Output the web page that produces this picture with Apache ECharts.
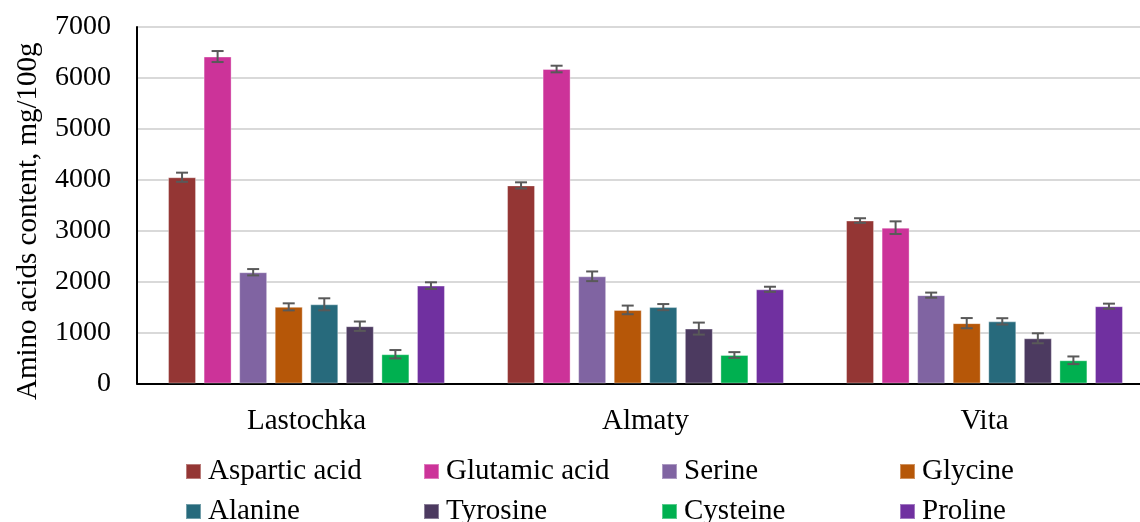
<!DOCTYPE html>
<html>
<head>
<meta charset="utf-8">
<script src="https://cdn.jsdelivr.net/npm/echarts@6/dist/echarts.min.js"></script>
<style>
  html, body { margin: 0; padding: 0; background: #fff; }
  #chart { width: 1140px; height: 522px; }
</style>
</head>
<body>
<div id="chart"></div>
<script>
// Data
var varieties = ['Lastochka', 'Almaty', 'Vita'];
var acids = ['Aspartic acid', 'Glutamic acid', 'Serine', 'Glycine',
             'Alanine', 'Tyrosine', 'Cysteine', 'Proline'];
var colors = ['#943634', '#CC3399', '#8064A2', '#B65708',
              '#276A7C', '#4C3A60', '#00B050', '#7030A0'];

// values per amino acid: [Lastochka, Almaty, Vita]
var aspartic = [4050, 3890, 3200];
var glutamic = [6420, 6175, 3060];
var serine   = [2185, 2105, 1735];
var glycine  = [1505, 1445, 1185];
var alanine  = [1555, 1500, 1220];
var tyrosine = [1125, 1078, 888];
var cysteine = [575, 560, 456];
var proline  = [1922, 1850, 1518];

// error (half-length of error bar)
var asparticErr = [90, 60, 45];
var glutamicErr = [108, 65, 124];
var serineErr   = [62, 95, 50];
var glycineErr  = [69, 85, 100];
var alanineErr  = [118, 60, 62];
var tyrosineErr = [92, 118, 98];
var cysteineErr = [82, 56, 75];
var prolineErr  = [65, 50, 50];

var yTicks = [0, 1000, 2000, 3000, 4000, 5000, 6000, 7000];

var values = [aspartic, glutamic, serine, glycine, alanine, tyrosine, cysteine, proline];
var errors = [asparticErr, glutamicErr, serineErr, glycineErr, alanineErr, tyrosineErr, cysteineErr, prolineErr];

var FONT = '"Liberation Serif", "Times New Roman", serif';
var BAR_W = 28;
var GAP_RATIO = 0.27;

function barOffset(i) {
  var gap = BAR_W * GAP_RATIO;
  var total = acids.length * BAR_W + (acids.length - 1) * gap;
  return -total / 2 + BAR_W / 2 + i * (BAR_W + gap);
}

function errorRenderer(i) {
  return function (params, api) {
    var cat = api.value(0), v = api.value(1), e = api.value(2);
    var x = api.coord([cat, v])[0] + barOffset(i);
    var yTop = api.coord([cat, v + e])[1];
    var yBot = api.coord([cat, v - e])[1];
    var style = {stroke: '#595959', lineWidth: 2};
    var cap = 6;
    return {
      type: 'group',
      children: [
        {type: 'line', shape: {x1: x, y1: yTop, x2: x, y2: yBot}, style: style},
        {type: 'line', shape: {x1: x - cap, y1: yTop, x2: x + cap, y2: yTop}, style: style},
        {type: 'line', shape: {x1: x - cap, y1: yBot, x2: x + cap, y2: yBot}, style: style},
      ]
    };
  };
}

var series = [];
acids.forEach(function (name, i) {
  series.push({
    name: name,
    type: 'bar',
    barWidth: BAR_W,
    barGap: (GAP_RATIO * 100) + '%',
    itemStyle: {color: colors[i], borderColor: 'rgba(255,255,255,0.35)', borderWidth: 1},
    data: values[i],
    animation: false,
  });
});
acids.forEach(function (name, i) {
  series.push({
    name: name + ' error',
    type: 'custom',
    renderItem: errorRenderer(i),
    encode: {x: 0, y: 1},
    data: varieties.map(function (v, k) { return [k, values[i][k], errors[i][k]]; }),
    z: 10,
    silent: true,
    animation: false,
  });
});

// one legend per entry, laid out on a 4 x 2 grid like the original
var legends = acids.map(function (name, i) {
  return {
    data: [name],
    left: 185 + (i % 4) * 238,
    top: 457 + Math.floor(i / 4) * 40,
    padding: 0,
    icon: 'rect',
    itemWidth: 15,
    itemHeight: 15,
    selectedMode: false,
    textStyle: {fontFamily: FONT, fontSize: 29, color: '#000', lineHeight: 29, padding: [0, 0, 0, 2]},
  };
});

var chart = echarts.init(document.getElementById('chart'), null, {renderer: 'canvas'});
chart.setOption({
  animation: false,
  backgroundColor: '#fff',
  grid: {left: 137, width: 1017, top: 27, bottom: 138.5, outerBoundsMode: 'none', containLabel: false},
  legend: legends,
  xAxis: {
    type: 'category',
    data: varieties,
    axisLine: {lineStyle: {color: '#000', width: 2}},
    axisTick: {show: false},
    axisLabel: {fontFamily: FONT, fontSize: 29, color: '#000', margin: 23},
  },
  yAxis: {
    type: 'value',
    min: yTicks[0],
    max: yTicks[yTicks.length - 1],
    interval: 1000,
    name: 'Amino acids content, mg/100g',
    nameLocation: 'middle',
    nameGap: 94,
    nameTextStyle: {fontFamily: FONT, fontSize: 29, color: '#000', padding: [0, 32, 0, 0]},
    axisLine: {show: true, lineStyle: {color: '#000', width: 2}},
    axisTick: {show: false},
    axisLabel: {
      fontFamily: FONT, fontSize: 28, color: '#000', margin: 26,
      formatter: function (v) { return String(v); }
    },
    splitLine: {lineStyle: {color: '#D9D9D9', width: 2}},
  },
  series: series,
});
</script>
</body>
</html>
